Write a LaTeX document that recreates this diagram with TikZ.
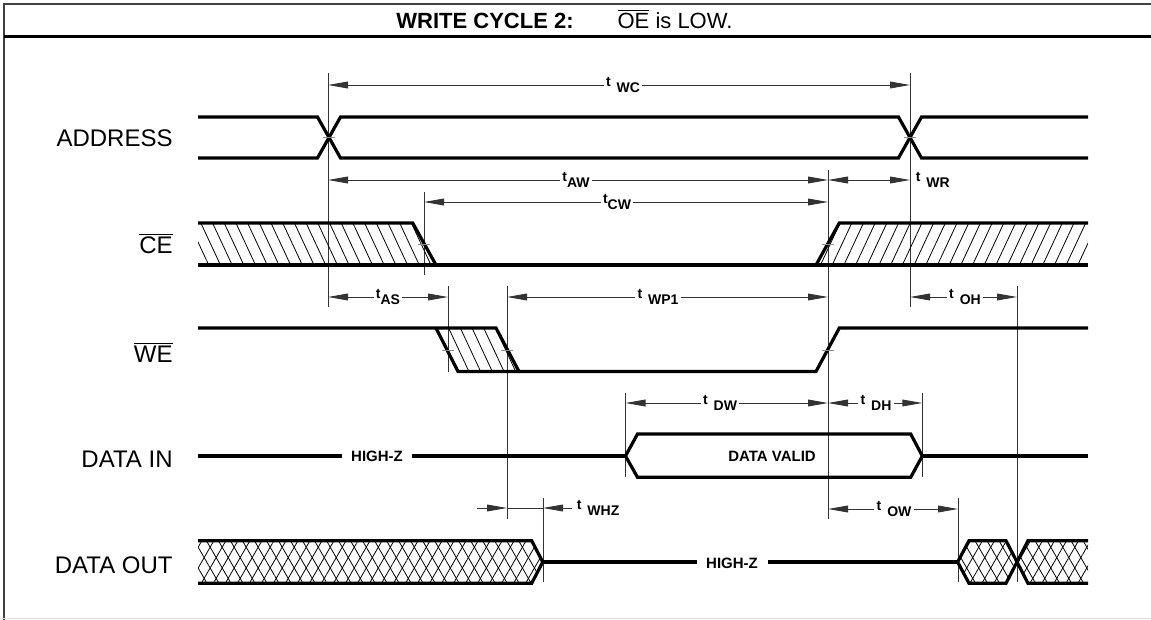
\documentclass[tikz,border=0pt]{standalone}
\usepackage{fontspec}
\setmainfont{Liberation Sans}
\usetikzlibrary{arrows.meta,patterns.meta}

\newcommand{\tsub}[2]{\textbf{t}\hspace{#1}\raisebox{-0.7ex}{\textbf{#2}}}

\begin{document}
\begin{tikzpicture}[x=0.5pt,y=-0.5pt]
% Estilos
\tikzset{sig/.style={line width=1.6pt},
  refline/.style={line width=0.45pt,black!80},
  dim/.style={refline,{Triangle[length=10pt,width=3.4pt]}-{Triangle[length=10pt,width=3.4pt]}},
  dimtip/.style={refline,-{Triangle[length=10pt,width=3.4pt]}},
  tick/.style={line width=0.4pt,black!45},
  tlabel/.style={fill=white,inner sep=1.2pt,font=\fontsize{7}{8}\selectfont},
  sig label/.style={anchor=base east,inner sep=0pt,font=\fontsize{12}{14}\selectfont},
  small text/.style={anchor=base,inner sep=0pt,font=\bfseries\fontsize{7.5}{9}\selectfont},
  hatch left/.style={pattern={Lines[angle=-65,distance=5.3pt,line width=0.4pt]}},
  hatch right/.style={pattern={Lines[angle=65,distance=5.3pt,line width=0.4pt]}},
  cross a/.style={pattern={Lines[angle=60,distance=5.2pt,line width=0.4pt]}},
  cross b/.style={pattern={Lines[angle=-60,distance=5.2pt,line width=0.4pt]}}}

\useasboundingbox (0,0) rectangle (1151,620);

% Moldura
\draw[line width=1pt,black!75] (4,620) -- (4,4) -- (1151,4);
\draw[line width=1.35pt] (4,36.7) -- (1151,36.7);
\draw[line width=0.5pt,black!12] (0,618.5) -- (1151,618.5);
\node[anchor=base west,inner sep=0pt,font=\fontsize{11}{13}\selectfont] (title) at (396,28.3)
  {\textbf{WRITE CYCLE 2:}\hspace{22pt}$\overline{\mbox{OE}}$ is LOW.};

% Nomes dos sinais
\node[sig label] (addr) at (173,146.5) {ADDRESS};
\node[sig label] (ce) at (173,253.5) {$\overline{\mbox{CE}}$};
\node[sig label] (we) at (173,362.5) {$\overline{\mbox{WE}}$};
\node[sig label] (din) at (173,467) {DATA IN};
\node[sig label] (dout) at (173,573.5) {DATA OUT};

% Linhas de referencia
\foreach \x/\ya/\yb in {328/73/307, 424/192/275, 448/286/372, 507/286/519, 543/498/582,
    625.5/393/477, 828/170/519, 910/73/307, 922.3/393/477, 958/498/582, 1017/286/582}{
  \draw[refline] (\x,\ya) -- (\x,\yb);
}

% ADDRESS
\draw[sig] (198,117) -- (317.5,117) -- (340.5,158) -- (898.5,158) -- (921.5,117) -- (1088,117);
\draw[sig] (198,158) -- (317.5,158) -- (340.5,117) -- (898.5,117) -- (921.5,158) -- (1088,158);

% CE
\fill[hatch left] (198,223) -- (412.7,223) -- (436,265) -- (198,265) -- cycle;
\fill[hatch right] (816,265) -- (839.3,223) -- (1088,223) -- (1088,265) -- cycle;
\draw[sig] (198,223) -- (412.7,223) -- (436,265);
\draw[sig] (198,265) -- (1088,265);
\draw[sig] (816,265) -- (839.3,223) -- (1088,223);

% WE
\fill[hatch left] (436,328) -- (496,328) -- (519,371.5) -- (458,371.5) -- cycle;
\draw[sig] (198,328) -- (496,328) -- (519,371.5);
\draw[sig] (436,328) -- (458,371.5) -- (816,371.5) -- (839.3,328) -- (1088,328);

% DATA IN
\draw[sig] (198,456) -- (341.7,456) (411.7,456) -- (625.5,456) (922.3,456) -- (1088,456);
\draw[sig] (625.5,456) -- (637.5,434) -- (910.7,434) -- (922.3,456) -- (910.7,477.3) -- (637.5,477.3) -- cycle;
\node[small text] (hz1) at (377,461.7) {HIGH-Z};
\node[small text] (valid) at (772,461.7) {DATA VALID};

% DATA OUT
\foreach \p in {cross a, cross b}{
  \fill[\p] (198,540.7) -- (531.7,540.7) -- (542.7,562) -- (531.7,583.3) -- (198,583.3) -- cycle;
  \fill[\p] (957.6,562) -- (969,540.7) -- (1006,540.7) -- (1017,562) -- (1006,583.3) -- (969,583.3) -- cycle;
  \fill[\p] (1088,540.7) -- (1028,540.7) -- (1017,562) -- (1028,583.3) -- (1088,583.3) -- cycle;
}
\draw[sig] (198,540.7) -- (531.7,540.7) -- (542.7,562) -- (531.7,583.3) -- (198,583.3);
\draw[sig] (542.7,562) -- (697,562) (767.5,562) -- (957.6,562);
\draw[sig] (957.6,562) -- (969,540.7) -- (1006,540.7) -- (1017,562) -- (1006,583.3) -- (969,583.3) -- cycle;
\draw[sig] (1088,540.7) -- (1028,540.7) -- (1017,562) -- (1028,583.3) -- (1088,583.3);
\node[small text] (hz2) at (732,568.3) {HIGH-Z};

% Marcas de 50%
\foreach \x/\y in {329/137.5, 910/137.5, 424/244, 828/244, 448/350, 507/350, 828/350}{
  \draw[tick] (\x-6,\y) -- (\x+6,\y);
}

% Tempos
\foreach \n/\a/\b/\y/\lx/\g/\s in {wc/328/910/85/623/3pt/WC, aw/328/828/180/576/0pt/AW,
    cw/424/828/202/617/0pt/CW, as/328/448/297/388/0pt/AS, wp/507/828/297/658/3pt/WP1,
    oh/910/1017/297/965/3pt/OH, dw/625.5/828/403/720/3pt/DW, dh/828/922.3/403/876/3pt/DH,
    ow/828/958/509/894/3pt/OW}{
  \coordinate (\n-l) at (\a,\y);
  \coordinate (\n-r) at (\b,\y);
  \draw[dim] (\n-l) -- (\n-r);
  \node[tlabel] (\n) at (\lx,\y) {\tsub{\g}{\s}};
}

\coordinate (wr-l) at (828,180);
\coordinate (wr-r) at (910,180);
\draw[dim] (wr-l) -- (wr-r);
\node[tlabel,fill=none,anchor=west] (wr) at (913,180) {\tsub{3pt}{WR}};

\coordinate (whz-a) at (477,508);
\coordinate (whz-b) at (507,508);
\coordinate (whz-c) at (543,508);
\coordinate (whz-d) at (572,508);
\draw[dimtip] (whz-a) -- (whz-b);
\draw[refline] (whz-b) -- (whz-c);
\draw[dimtip] (whz-d) -- (whz-c);
\node[tlabel,fill=none,anchor=west] (whz) at (574,508) {\tsub{3pt}{WHZ}};

\end{tikzpicture}
\end{document}
